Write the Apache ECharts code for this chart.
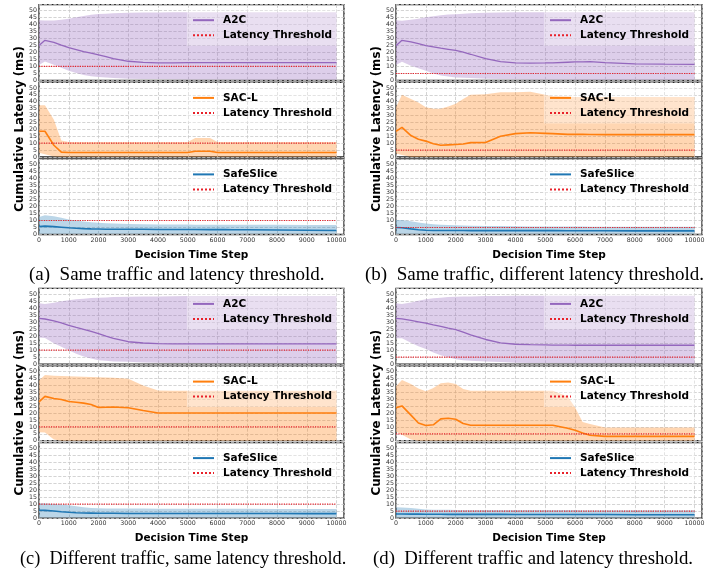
<!DOCTYPE html>
<html>
<head>
<meta charset="utf-8">
<script src="https://cdn.jsdelivr.net/npm/echarts@6.0.0/dist/echarts.min.js"></script>
<style>
  html, body { margin: 0; padding: 0; background: #fff; }
  #chart { width: 720px; height: 569px; }
</style>
</head>
<body>
<div id="chart"></div>
<script>
// decision steps shared by every curve
var STEPS = [0, 200, 500, 750, 1000, 1250, 1500, 1750, 2000, 2250, 2500, 3000, 3500, 4000, 4500, 5000, 5250, 5750, 6000, 6250, 6500, 7000, 8000, 9000, 10000];
var THRESHOLDS = [10, 5, 10, 5];
var METHODS = ['A2C', 'SAC-L', 'SafeSlice'];
var CAPTIONS = [
  '(a)\u2002Same traffic and latency threshold.',
  '(b)\u2002Same traffic, different latency threshold.',
  '(c)\u2002Different traffic, same latency threshold.',
  '(d)\u2002Different traffic and latency threshold.'
];

// (a) same traffic, same threshold
var aA2cMean = [24.9, 28.6, 27.2, 25.2, 23.4, 22.0, 20.6, 19.5, 18.3, 17.0, 15.6, 13.7, 12.9, 12.5, 12.6, 12.7, 12.7, 12.7, 12.7, 12.7, 12.7, 12.7, 12.7, 12.7, 12.7];
var aA2cLo   = [11.0, 13.5, 11.3, 9.0, 7.0, 5.3, 4.0, 3.1, 2.5, 2.1, 1.8, 1.3, 1.1, 1.0, 0.9, 0.8, 0.8, 0.7, 0.7, 0.7, 0.7, 0.6, 0.6, 0.5, 0.5];
var aA2cHi   = [43.0, 42.7, 42.8, 43.3, 44.0, 45.0, 46.0, 46.8, 47.3, 47.6, 47.9, 48.2, 48.4, 48.5, 48.6, 48.6, 48.6, 48.7, 48.7, 48.7, 48.7, 48.7, 48.7, 48.7, 48.7];
var aSacMean = [18.6, 18.6, 8.5, 3.5, 3.3, 3.3, 3.3, 3.3, 3.3, 3.3, 3.3, 3.3, 3.3, 3.3, 3.3, 3.3, 4.2, 4.2, 3.3, 3.3, 3.3, 3.3, 3.3, 3.3, 3.3];
var aSacLo   = [3.0, 2.0, 0.4, 0, 0, 0, 0, 0, 0, 0, 0, 0, 0, 0, 0, 0, 0, 0, 0, 0, 0, 0, 0, 0, 0];
var aSacHi   = [37.4, 37.4, 27.0, 12.0, 10.8, 10.8, 10.8, 10.8, 10.8, 10.8, 10.8, 10.8, 10.8, 10.8, 10.8, 10.8, 13.8, 13.8, 10.8, 10.8, 10.8, 10.8, 10.8, 10.8, 10.8];
var aSafeMean = [5.7, 6.0, 5.6, 5.2, 4.8, 4.5, 4.2, 4.0, 3.9, 3.8, 3.8, 3.7, 3.7, 3.6, 3.6, 3.6, 3.6, 3.5, 3.5, 3.5, 3.4, 3.4, 3.2, 3.0, 2.9];
var aSafeLo   = [0.5, 0.5, 0.5, 0.5, 0.5, 0.5, 0.5, 0.5, 0.5, 0.5, 0.5, 0.5, 0.5, 0.5, 0.5, 0.5, 0.5, 0.5, 0.5, 0.5, 0.5, 0.5, 0.5, 0.5, 0.5];
var aSafeHi   = [12.5, 13.7, 13.0, 12.0, 10.8, 10.0, 9.3, 8.8, 8.4, 8.1, 7.9, 7.5, 7.3, 7.2, 7.1, 7.1, 7.0, 7.0, 7.0, 7.0, 7.0, 6.9, 6.9, 6.8, 6.8];

// (b) same traffic, different threshold
var bA2cMean = [24.8, 28.6, 27.5, 26.2, 24.9, 24.0, 23.0, 22.2, 21.4, 20.2, 18.7, 15.6, 13.4, 12.6, 12.4, 12.5, 12.6, 13.0, 13.2, 13.3, 13.4, 12.8, 11.8, 11.6, 11.5];
var bA2cLo   = [11.0, 13.4, 10.5, 8.7, 7.0, 5.0, 3.6, 2.8, 2.2, 1.9, 1.7, 1.3, 1.1, 0.9, 0.8, 0.7, 0.7, 0.7, 0.6, 0.6, 0.6, 0.6, 0.5, 0.5, 0.5];
var bA2cHi   = [43.0, 42.6, 43.2, 44.0, 45.0, 45.8, 46.5, 47.0, 47.2, 47.6, 47.9, 48.3, 48.5, 48.6, 48.6, 48.6, 48.6, 48.6, 48.6, 48.6, 48.6, 48.6, 48.6, 48.6, 48.6];
var bSacMean = [18.6, 21.5, 15.5, 12.8, 11.5, 9.6, 8.5, 8.8, 9.1, 9.4, 10.4, 10.5, 15.0, 16.9, 17.5, 17.1, 16.9, 16.4, 16.4, 16.4, 16.3, 16.2, 16.3, 16.2, 16.2];
var bSacLo   = [2.5, 1.5, 0, 0, 0, 0, 0, 0, 0, 0, 0, 0, 0, 0, 0, 0, 0, 0, 0, 0, 0, 0, 0, 0, 0];
var bSacHi   = [36.0, 45.0, 42.0, 39.5, 36.0, 35.0, 35.0, 36.5, 38.5, 42.0, 45.0, 45.5, 46.8, 46.8, 47.2, 45.0, 44.0, 43.6, 43.5, 43.5, 43.5, 43.5, 43.5, 43.5, 43.5];
var bSafeMean = [5.0, 4.8, 4.0, 3.4, 3.0, 2.9, 2.9, 2.9, 2.9, 2.9, 2.8, 2.8, 2.8, 2.8, 2.8, 2.8, 2.8, 2.7, 2.7, 2.7, 2.7, 2.7, 2.6, 2.6, 2.6];
var bSafeLo   = [0.5, 0.5, 0.5, 0.5, 0.5, 0.5, 0.5, 0.5, 0.5, 0.5, 0.5, 0.5, 0.5, 0.5, 0.5, 0.5, 0.5, 0.5, 0.5, 0.5, 0.5, 0.5, 0.5, 0.5, 0.5];
var bSafeHi   = [10.3, 10.3, 9.4, 8.6, 7.9, 7.4, 7.0, 6.8, 6.6, 6.5, 6.3, 6.1, 6.0, 5.9, 5.8, 5.8, 5.8, 5.7, 5.7, 5.7, 5.6, 5.6, 5.6, 5.5, 5.5];

// (c) different traffic, same threshold
var cA2cMean = [32.7, 32.2, 30.8, 29.5, 27.7, 26.2, 24.8, 23.3, 21.8, 20.0, 18.4, 16.0, 15.1, 14.7, 14.5, 14.5, 14.5, 14.5, 14.5, 14.5, 14.5, 14.5, 14.5, 14.5, 14.5];
var cA2cLo   = [19.0, 18.6, 15.0, 12.5, 10.0, 7.5, 5.4, 4.0, 2.9, 2.4, 2.0, 1.7, 1.3, 1.1, 0.9, 0.8, 0.8, 0.7, 0.7, 0.7, 0.6, 0.6, 0.6, 0.5, 0.5];
var cA2cHi   = [43.4, 42.9, 43.8, 44.8, 45.5, 46.2, 46.7, 47.1, 47.4, 47.6, 47.8, 48.0, 48.2, 48.3, 48.4, 48.5, 48.5, 48.5, 48.6, 48.6, 48.6, 48.6, 48.6, 48.6, 48.6];
var cSacMean = [28.1, 32.1, 30.5, 29.8, 28.4, 27.8, 27.2, 26.2, 24.1, 24.2, 24.4, 23.9, 21.9, 20.0, 20.0, 20.0, 20.0, 20.0, 20.0, 20.0, 20.0, 20.0, 20.0, 20.0, 20.0];
var cSacLo   = [6.2, 6.0, 0.8, 0, 0, 0, 0, 0, 0, 0, 0, 0, 0, 0, 0, 0, 0, 0, 0, 0, 0, 0, 0, 0, 0];
var cSacHi   = [43.6, 47.5, 47.1, 46.9, 46.6, 46.5, 46.3, 46.2, 46.0, 45.8, 45.5, 44.8, 40.0, 36.3, 36.2, 36.2, 36.2, 36.2, 36.2, 36.2, 36.2, 36.2, 36.2, 36.2, 36.2];
var cSafeMean = [5.7, 5.6, 5.1, 4.6, 4.2, 3.9, 3.7, 3.6, 3.5, 3.5, 3.5, 3.4, 3.4, 3.4, 3.4, 3.4, 3.4, 3.4, 3.4, 3.4, 3.4, 3.4, 3.4, 3.3, 3.3];
var cSafeLo   = [0.5, 0.5, 0.5, 0.5, 0.5, 0.5, 0.5, 0.5, 0.5, 0.5, 0.5, 0.5, 0.5, 0.5, 0.5, 0.5, 0.5, 0.5, 0.5, 0.5, 0.5, 0.5, 0.5, 0.5, 0.5];
var cSafeHi   = [10.6, 10.6, 10.2, 9.8, 9.3, 8.5, 7.8, 7.3, 7.1, 7.0, 7.0, 6.9, 6.9, 6.8, 6.8, 6.8, 6.8, 6.7, 6.7, 6.7, 6.7, 6.7, 6.6, 6.6, 6.6];

// (d) different traffic, different threshold
var dA2cMean = [32.7, 32.3, 31.2, 30.2, 29.2, 28.0, 26.9, 25.7, 24.6, 22.9, 20.9, 17.6, 15.2, 14.2, 13.9, 13.7, 13.6, 13.6, 13.5, 13.5, 13.5, 13.5, 13.5, 13.5, 13.5];
var dA2cLo   = [18.5, 18.5, 15.2, 12.8, 10.9, 8.4, 6.4, 4.9, 3.6, 2.9, 2.5, 2.0, 1.5, 1.1, 0.9, 0.8, 0.8, 0.7, 0.7, 0.7, 0.6, 0.6, 0.6, 0.5, 0.5];
var dA2cHi   = [43.4, 42.9, 44.0, 45.2, 46.2, 46.9, 47.4, 47.8, 48.1, 48.2, 48.3, 48.5, 48.6, 48.7, 48.7, 48.7, 48.8, 48.8, 48.8, 48.8, 48.8, 48.8, 48.8, 48.8, 48.8];
var dSacMean = [23.8, 25.2, 18.5, 12.8, 11.0, 11.5, 15.8, 16.2, 15.5, 12.5, 11.2, 11.2, 11.2, 11.2, 11.2, 11.2, 11.2, 9.0, 7.6, 5.6, 4.0, 3.1, 3.1, 3.1, 3.1];
var dSacLo   = [6.7, 4.3, 0.8, 0, 0, 0, 0, 0, 0, 0, 0, 0, 0, 0, 0, 0, 0, 0, 0, 0, 0, 0, 0, 0, 0];
var dSacHi   = [39.5, 44.0, 41.0, 37.8, 35.8, 38.2, 41.6, 42.1, 41.0, 37.5, 36.2, 36.2, 36.2, 36.2, 36.2, 36.2, 36.2, 32.0, 24.0, 13.6, 12.0, 9.5, 9.5, 9.5, 9.5];
var dSafeMean = [3.0, 3.0, 2.9, 2.9, 2.8, 2.8, 2.8, 2.7, 2.7, 2.7, 2.7, 2.7, 2.7, 2.6, 2.6, 2.6, 2.6, 2.6, 2.6, 2.6, 2.6, 2.6, 2.5, 2.5, 2.5];
var dSafeLo   = [0.5, 0.5, 0.5, 0.5, 0.5, 0.5, 0.5, 0.5, 0.5, 0.5, 0.5, 0.5, 0.5, 0.5, 0.5, 0.5, 0.5, 0.5, 0.5, 0.5, 0.5, 0.5, 0.5, 0.5, 0.5];
var dSafeHi   = [7.9, 7.6, 7.2, 6.7, 6.3, 6.1, 6.0, 6.0, 5.9, 5.9, 5.9, 5.8, 5.8, 5.8, 5.8, 5.8, 5.8, 5.8, 5.8, 5.7, 5.7, 5.7, 5.7, 5.7, 5.7];

var PANELS = [
  [[aA2cMean, aA2cLo, aA2cHi], [aSacMean, aSacLo, aSacHi], [aSafeMean, aSafeLo, aSafeHi]],
  [[bA2cMean, bA2cLo, bA2cHi], [bSacMean, bSacLo, bSacHi], [bSafeMean, bSafeLo, bSafeHi]],
  [[cA2cMean, cA2cLo, cA2cHi], [cSacMean, cSacLo, cSacHi], [cSafeMean, cSafeLo, cSafeHi]],
  [[dA2cMean, dA2cLo, dA2cHi], [dSacMean, dSacLo, dSacHi], [dSafeMean, dSafeLo, dSafeHi]]
];

var COLORS = ['#9467bd', '#ff7f0e', '#1f77b4'];
var BAND_FILL = ['rgba(148,103,189,0.32)', 'rgba(255,127,14,0.32)', 'rgba(31,119,180,0.3)'];
var LINE_W = [1.3, 1.6, 1.6];
var RED = '#e8212a';

// layout (px)
var COL_LEFT = [39, 396], COL_WIDTH = [305, 306];
var ROW_TOP = [0, 283.7];
var PANEL_TOP = [4.7, 82.4, 158.9], PANEL_H = [75.8, 74.6, 75.6];
var CAP_LEFT = [29, 365, 20, 373];
var CAP_SIZE = [19, 19, 18.3, 18.8];

function pairs(ys) {
  return STEPS.map(function (x, i) { return [x, ys[i]]; });
}
function tickLabel(extra) {
  var o = { fontFamily: 'DejaVu Sans', fontSize: 6.3, color: '#333', formatter: function (v) { return String(v); } };
  for (var key in extra) o[key] = extra[key];
  return o;
}
function gridLine() {
  return { show: true, lineStyle: { type: 'dashed', color: '#c9c9c9', width: 0.8 } };
}
// filled band between lower and upper bound, drawn once per series from all its rows
function bandRenderer(fill) {
  return function (params, api) {
    if (params.dataIndexInside !== 0) return null;
    var n = params.dataInsideLength, upper = [], lower = [];
    for (var i = 0; i < n; i++) {
      var x = api.value(0, i);
      upper.push(api.coord([x, api.value(2, i)]));
      lower.unshift(api.coord([x, api.value(1, i)]));
    }
    return { type: 'polygon', shape: { points: upper.concat(lower) }, style: { fill: fill } };
  };
}

var grids = [], xAxes = [], yAxes = [], series = [], legends = [], graphics = [];

for (var k = 0; k < 4; k++) {
  var col = k % 2, row = Math.floor(k / 2);
  for (var p = 0; p < 3; p++) {
    var g = k * 3 + p;
    var panelTop = ROW_TOP[row] + PANEL_TOP[p];
    var vals = PANELS[k][p];
    var mean = vals[0], lo = vals[1], hi = vals[2];
    grids.push({
      left: COL_LEFT[col], top: panelTop, width: COL_WIDTH[col], height: PANEL_H[p],
      show: true, borderColor: '#222', borderWidth: 1.3, backgroundColor: 'rgba(0,0,0,0)'
    });
    xAxes.push({
      type: 'value', gridIndex: g, min: 0, max: 10250, interval: 1000,
      axisLine: { show: false }, axisTick: { show: false },
      axisLabel: tickLabel({ show: p === 2, margin: 2.5, showMaxLabel: false }),
      splitLine: gridLine()
    });
    yAxes.push({
      type: 'value', gridIndex: g, min: 0, max: 54, interval: 5,
      axisLine: { show: false }, axisTick: { show: false },
      axisLabel: tickLabel({ margin: 2, showMaxLabel: false }),
      splitLine: gridLine()
    });
    series.push({
      type: 'custom', name: METHODS[p] + ' band', xAxisIndex: g, yAxisIndex: g,
      data: STEPS.map(function (x, i) { return [x, lo[i], hi[i]]; }),
      encode: { x: 0, y: [1, 2] }, renderItem: bandRenderer(BAND_FILL[p]),
      silent: true, z: 1
    });
    series.push({
      type: 'line', name: METHODS[p], xAxisIndex: g, yAxisIndex: g,
      data: pairs(mean), symbol: 'none', z: 3,
      lineStyle: { color: COLORS[p], width: LINE_W[p] }, itemStyle: { color: COLORS[p] }
    });
    series.push({
      type: 'line', name: 'Latency Threshold', xAxisIndex: g, yAxisIndex: g,
      data: [[0, THRESHOLDS[k]], [10000, THRESHOLDS[k]]], symbol: 'none', z: 4,
      lineStyle: { color: RED, width: 1.2, type: 'dotted' }, itemStyle: { color: RED }
    });
    legends.push({
      data: [METHODS[p], 'Latency Threshold'],
      orient: 'vertical', left: COL_LEFT[col] + 148, top: panelTop + 5,
      itemWidth: 21, itemHeight: 10, itemGap: 4, padding: [5, 6, 5, 5],
      backgroundColor: 'rgba(255,255,255,0.35)', selectedMode: false,
      itemStyle: { opacity: 0 },
      textStyle: { fontFamily: 'DejaVu Sans', fontWeight: 'bold', fontSize: 10.5, color: '#000', padding: [0, 0, 0, 4] }
    });
  }
  graphics.push({
    type: 'text', x: COL_LEFT[col] - 19, y: ROW_TOP[row] + 129, rotation: Math.PI / 2,
    style: { text: 'Cumulative Latency (ms)', font: 'bold 11.8px "DejaVu Sans"', fill: '#000', align: 'center', verticalAlign: 'middle' }
  });
  graphics.push({
    type: 'text', x: COL_LEFT[col] + COL_WIDTH[col] / 2, y: ROW_TOP[row] + 255,
    style: { text: 'Decision Time Step', font: 'bold 10.5px "DejaVu Sans"', fill: '#000', align: 'center', verticalAlign: 'middle' }
  });
  graphics.push({
    type: 'text', x: CAP_LEFT[k], y: ROW_TOP[row] + 275,
    style: { text: CAPTIONS[k], font: CAP_SIZE[k] + 'px "Liberation Serif"', fill: '#000', align: 'left', verticalAlign: 'middle' }
  });
}

var chart = echarts.init(document.getElementById('chart'), null, { renderer: 'canvas' });
chart.setOption({
  animation: false,
  backgroundColor: '#fff',
  grid: grids,
  xAxis: xAxes,
  yAxis: yAxes,
  legend: legends,
  series: series,
  graphic: graphics
});
</script>
</body>
</html>
